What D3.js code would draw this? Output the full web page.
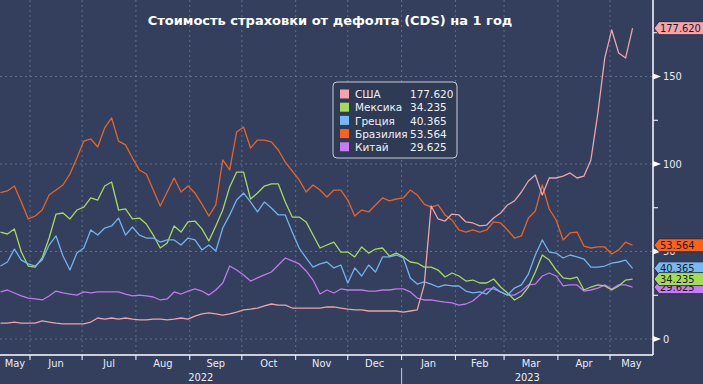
<!DOCTYPE html>
<html>
<head>
<meta charset="utf-8">
<script src="https://cdnjs.cloudflare.com/ajax/libs/d3/7.8.5/d3.min.js"></script>
<style>
  html, body { margin: 0; padding: 0; background: #333f5c; }
  svg { display: block; }
</style>
</head>
<body>
<script>
// one point every 4 days, starting 15 May 2022
const startDate = new Date(2022, 4, 15);
const stepDays = 4;

const names = ["США", "Мексика", "Греция", "Бразилия", "Китай"];
const lastLabels = ["177.620", "34.235", "40.365", "53.564", "29.625"];

const usa = [9.1,9.1,9.7,9.1,9.1,9.1,10.3,9.7,9.1,8.6, 8.6,8.6,8.6,9.7,12.0,11.4,12.0,11.4,12.0,11.4,
  10.9,10.9,11.4,11.4,10.9,11.4,12.0,11.4,13.1,14.3, 14.9,14.3,13.7,14.3,15.4,16.6,17.1,17.7,18.9,20.0,
  19.4,19.4,17.7,17.7,17.7,17.7,17.7,18.3,18.3,17.7, 17.1,16.6,16.6,16.0,16.0,16.0,16.0,16.0,15.4,16.0,
  16.6,30.9,76.0,68.6,67.4,71.4,70.9,66.9,66.3,64.6, 65.1,69.1,72.0,76.6,78.9,84.0,90.3,93.7,82.3,92.0,
  92.0,93.1,94.9,92.0,93.1,102.3,129.1,160.6,176.6,163.4, 160.6,177.62];

const mexico = [61.1,60.0,62.9,49.7,41.7,41.1,46.3,57.7,71.4,72.0, 68.6,73.7,75.4,80.6,79.4,87.4,89.7,73.7,74.3,68.6,
  69.1,65.7,59.4,52.0,54.9,64.6,61.1,66.9,67.4,62.9, 56.0,64.6,73.7,86.9,95.4,95.4,80.0,83.4,87.4,88.6,
  88.6,78.3,69.7,69.7,66.9,59.4,52.0,53.7,55.4,49.7, 49.7,46.9,52.6,49.1,51.4,52.0,47.4,49.1,46.9,44.0,
  43.4,41.1,41.1,39.4,35.4,37.7,36.0,33.1,33.7,32.0, 32.0,34.3,29.7,26.3,22.3,24.6,29.7,38.3,48.0,45.1,
  39.4,34.9,34.3,35.4,28.0,29.7,30.9,30.3,28.0,30.3, 33.7,34.235];

const greece = [41.7,44.0,51.4,45.1,42.9,41.7,45.1,53.7,58.9,47.4, 39.4,49.1,52.0,62.3,59.4,63.4,64.6,69.1,59.4,64.0,
  59.4,57.7,57.7,55.4,56.6,56.6,53.7,57.7,56.6,50.9, 53.7,50.3,63.4,70.9,79.4,83.4,78.3,72.6,78.3,74.9,
  70.9,70.9,61.1,52.0,46.3,41.1,42.9,44.0,40.6,42.3, 32.0,40.6,36.0,42.3,38.3,46.9,46.9,48.0,46.3,34.9,
  31.4,32.6,31.4,29.7,30.9,30.3,30.3,27.4,26.3,26.9, 25.7,29.7,26.9,25.1,29.1,30.9,37.1,48.0,56.6,49.7,
  49.1,46.3,48.0,46.9,45.7,41.1,41.1,41.7,43.4,44.0, 45.1,40.365];

const brazil = [83.6,84.6,87.4,78.3,68.6,70.3,73.7,82.3,85.1,88.0, 94.3,103.4,113.1,114.3,109.7,120.6,126.3,113.1,110.9,103.4,
  96.6,94.3,85.1,76.0,84.0,92.0,84.0,87.4,83.4,77.1, 70.3,76.6,102.3,96.6,118.3,121.1,109.1,113.7,113.7,112.6,
  108.0,101.1,96.0,90.9,84.0,88.0,85.1,81.1,85.1,85.1, 79.4,70.3,73.7,72.6,76.6,80.6,78.9,80.0,80.6,85.1,
  82.3,77.1,75.4,76.6,70.9,68.0,62.3,61.1,62.3,61.1, 62.3,66.9,66.3,62.3,57.7,58.9,69.1,73.1,88.0,74.3,
  68.0,56.6,60.6,61.1,53.1,52.0,52.6,52.6,48.6,50.9, 55.4,53.564];

const china = [26.9,28.0,26.3,24.6,23.4,22.9,22.3,24.6,27.4,26.3, 25.7,25.1,26.9,26.3,26.9,26.9,26.9,26.9,25.7,24.6,
  25.1,24.6,24.0,22.3,22.9,26.9,25.7,27.4,28.6,27.4, 25.1,28.0,32.0,41.7,39.4,36.6,33.1,34.9,36.6,38.3,
  42.3,46.3,44.6,42.9,38.9,33.7,25.7,28.0,26.3,28.6, 28.0,28.0,28.0,27.4,27.4,28.0,28.0,28.6,28.6,26.9,
  23.4,22.3,22.3,21.7,21.1,20.6,19.4,20.0,21.7,25.1, 28.6,28.6,26.9,25.1,25.1,27.4,30.9,31.4,36.0,37.7,
  36.0,30.3,30.9,30.9,27.4,28.0,29.1,30.9,28.6,30.9, 30.9,29.625];

const yTicks = [0, 50, 100, 150];
const yMinor = [25, 75, 125, 175];

const seriesValues = [usa, mexico, greece, brazil, china];
const lineColors = ["#eda2ad", "#a7d863", "#72b2ee", "#e6642c", "#bf78ee"];
const tagColors = ["#f7a3ab", "#a5dc57", "#77b9f6", "#ff6116", "#c77cf6"];

const width = 703, height = 384;
const axisX = 653, axisY = 355;

const svg = d3.select("body").append("svg")
  .attr("width", width).attr("height", height)
  .style("background", "#333f5c");

const x = d3.scaleTime()
  .domain([new Date(2022, 5, 1), new Date(2023, 4, 1)])
  .range([30, 610]);
const y = d3.scaleLinear().domain([0, 150]).range([339, 76.5]);

const series = names.map((name, k) => ({
  name,
  color: lineColors[k],
  tag: tagColors[k],
  label: lastLabels[k],
  values: seriesValues[k].map((v, i) => ({ date: d3.timeDay.offset(startDate, i * stepDays), v }))
}));

const months = d3.timeMonth.range(new Date(2022, 4, 1), new Date(2023, 5, 1));
const monthStarts = months.filter(m => x(m) > 0 && x(m) < axisX);

// grid
const grid = svg.append("g").attr("stroke", "#6c7a98").attr("stroke-width", 0.8)
  .attr("stroke-dasharray", "2,3");
grid.selectAll(".vg").data(monthStarts).join("line")
  .attr("x1", d => x(d)).attr("x2", d => x(d))
  .attr("y1", 0).attr("y2", axisY);
grid.selectAll(".hg").data(yTicks).join("line")
  .attr("x1", 0).attr("x2", axisX)
  .attr("y1", d => y(d)).attr("y2", d => y(d));

// title
svg.append("text")
  .attr("x", 330).attr("y", 25)
  .attr("text-anchor", "middle")
  .attr("fill", "#ffffff")
  .style("font", "bold 13px 'DejaVu Sans', Verdana, sans-serif")
  .text("Стоимость страховки от дефолта (CDS) на 1 год");

// lines
const line = d3.line().x(d => x(d.date)).y(d => y(d.v));
const drawOrder = [3, 4, 1, 2, 0];
svg.append("g").selectAll("path")
  .data(drawOrder.map(k => series[k]))
  .join("path")
    .attr("d", d => line(d.values))
    .attr("fill", "none")
    .attr("stroke", d => d.color)
    .attr("stroke-width", 1.3)
    .attr("stroke-linejoin", "round");

// axes
const axisFont = "11px 'DejaVu Sans Condensed', 'DejaVu Sans', sans-serif";
svg.append("line").attr("x1", 0).attr("x2", axisX).attr("y1", axisY).attr("y2", axisY)
  .attr("stroke", "#ffffff").attr("stroke-width", 1.5);
svg.append("line").attr("x1", axisX).attr("x2", axisX).attr("y1", 0).attr("y2", axisY)
  .attr("stroke", "#ffffff").attr("stroke-width", 1.5);

svg.append("g").selectAll("line").data(monthStarts).join("line")
  .attr("x1", d => x(d)).attr("x2", d => x(d))
  .attr("y1", axisY).attr("y2", axisY + 5)
  .attr("stroke", "#ffffff");

const monthLabels = months.map(m => {
  const a = Math.max(0, x(m)), b = Math.min(axisX, x(d3.timeMonth.offset(m, 1)));
  return { m, cx: (a + b) / 2, w: b - a };
}).filter(d => d.w > 15);

svg.append("g").selectAll("text").data(monthLabels).join("text")
  .attr("x", d => d.cx).attr("y", 367)
  .attr("text-anchor", "middle")
  .attr("fill", "#e8ecf2")
  .style("font", axisFont)
  .text(d => d3.timeFormat("%b")(d.m));

const yearSplit = x(new Date(2023, 0, 1));
svg.append("line").attr("x1", yearSplit).attr("x2", yearSplit)
  .attr("y1", 368).attr("y2", height).attr("stroke", "#c9cdd6");
svg.append("g").selectAll("text")
  .data([{ t: "2022", cx: yearSplit / 2 }, { t: "2023", cx: (yearSplit + axisX) / 2 }])
  .join("text")
    .attr("x", d => d.cx).attr("y", 381)
    .attr("text-anchor", "middle")
    .attr("fill", "#e8ecf2")
    .style("font", axisFont)
    .text(d => d.t);

// right axis ticks
svg.append("g").selectAll("path").data(yTicks).join("path")
  .attr("d", d => `M${axisX},${y(d) - 3}L${axisX + 8},${y(d)}L${axisX},${y(d) + 3}Z`)
  .attr("fill", "#ffffff");
svg.append("g").selectAll("line").data(yMinor).join("line")
  .attr("x1", axisX).attr("x2", axisX + 5)
  .attr("y1", d => y(d)).attr("y2", d => y(d))
  .attr("stroke", "#ffffff");
svg.append("g").selectAll("text").data(yTicks).join("text")
  .attr("x", axisX + 10).attr("y", d => y(d))
  .attr("dy", "0.36em")
  .attr("fill", "#e8ecf2")
  .style("font", axisFont)
  .text(d => d);

// last-value tags
const tagOrder = [0, 3, 4, 2, 1];
const tags = svg.append("g").selectAll("g").data(tagOrder.map(k => series[k])).join("g")
  .attr("transform", d => `translate(0,${y(d.values[d.values.length - 1].v)})`);
tags.append("path")
  .attr("d", `M${axisX + 1},0L${axisX + 6},-6.5L${width + 2},-6.5L${width + 2},6.5L${axisX + 6},6.5Z`)
  .attr("fill", d => d.tag)
  .attr("stroke", "#1b2233")
  .attr("stroke-width", 0.8);
tags.append("text")
  .attr("x", axisX + 7).attr("dy", "0.36em")
  .attr("fill", "#1a1a1a")
  .style("font", "11px 'DejaVu Sans Condensed', 'DejaVu Sans', sans-serif")
  .text(d => d.label);

// legend
const lg = svg.append("g").attr("transform", "translate(333,82)");
lg.append("rect")
  .attr("width", 124).attr("height", 76).attr("rx", 4)
  .attr("fill", "#2f3a55").attr("stroke", "#c9cdd6").attr("stroke-width", 1);
const items = lg.selectAll(".it").data(series).join("g")
  .attr("transform", (d, i) => `translate(0,${12.5 + i * 13.2})`);
items.append("rect")
  .attr("x", 7).attr("y", -5).attr("width", 9).attr("height", 9)
  .attr("fill", d => d.tag);
items.append("text")
  .attr("x", 22).attr("dy", "0.35em")
  .attr("fill", "#eef1f6")
  .style("font", "10.5px 'DejaVu Sans', sans-serif")
  .text(d => d.name);
items.append("text")
  .attr("x", 77).attr("dy", "0.35em")
  .attr("fill", "#eef1f6")
  .style("font", "10.5px 'DejaVu Sans', sans-serif")
  .text(d => d.label);
</script>
</body>
</html>
